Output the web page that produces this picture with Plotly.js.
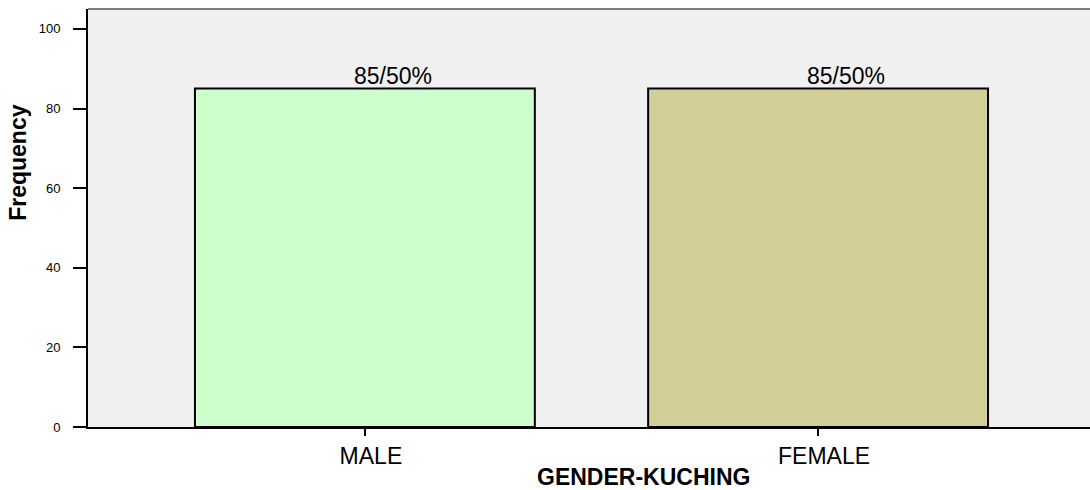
<!DOCTYPE html>
<html>
<head>
<meta charset="utf-8">
<script src="https://cdn.plot.ly/plotly-3.0.1.min.js"></script>
<style>
  html, body { margin: 0; padding: 0; background: #fff; overflow: hidden; }
</style>
</head>
<body>
<div id="gender_chart"></div>
<script>
// GENDER-KUCHING frequencies
var genders = ["MALE", "FEMALE"];
var counts = [85, 85];
var percents = ["50%", "50%"];
var barColors = ["#CCFFCC", "#D3CE97"];
var yTicks = [0, 20, 40, 60, 80, 100];

var labelFont = {family: "Liberation Sans, Arial", size: 23, color: "#000"};

var data = [{
  type: "bar",
  x: genders,
  y: counts,
  width: 0.75,
  marker: {color: barColors, line: {color: "#000", width: 2}},
  hoverinfo: "x+y"
}];

// count/percent labels sit just above each bar, a bit right of centre
var barLabels = genders.map(function (g, i) {
  return {
    text: counts[i] + "/" + percents[i],
    xref: "x", yref: "y",
    x: g, y: counts[i],
    xanchor: "center", yanchor: "bottom",
    xshift: 28, yshift: -2,
    showarrow: false,
    font: labelFont
  };
});

var layout = {
  width: 1090,
  height: 490,
  margin: {l: 88, r: 0, t: 9, b: 63},
  paper_bgcolor: "#ffffff",
  plot_bgcolor: "#F0F0F0",
  showlegend: false,
  font: {family: "Liberation Sans, Arial", color: "#000"},
  xaxis: {
    type: "category",
    range: [-0.611, 1.6],
    showline: true, linecolor: "#000", linewidth: 2,
    ticks: "outside", ticklen: 7, tickwidth: 1.5, tickcolor: "#000",
    tickfont: {size: 23},
    ticklabelshift: 6,
    showgrid: false, zeroline: false
  },
  yaxis: {
    range: [0, 105],
    tickvals: yTicks,
    showline: true, linecolor: "#000", linewidth: 2,
    ticks: "outside", ticklen: 13, tickwidth: 2, tickcolor: "#000",
    ticklabelstandoff: 10,
    tickfont: {size: 13},
    showgrid: false, zeroline: false
  },
  annotations: barLabels.concat([{
    text: "<b>GENDER-KUCHING</b>",
    xref: "x", yref: "paper",
    x: 0.615, y: 0, yanchor: "middle", yshift: -50,
    showarrow: false,
    font: {size: 23}
  }, {
    text: "<b>Frequency</b>",
    xref: "paper", yref: "paper",
    x: 0, y: 0.632, xanchor: "center", yanchor: "middle", xshift: -70,
    textangle: -90,
    showarrow: false,
    font: {size: 23}
  }]),
  shapes: [{
    type: "line", xref: "paper", yref: "paper",
    x0: 0, x1: 1, y0: 1, y1: 1,
    line: {color: "#555", width: 1.5}
  }]
};

Plotly.newPlot("gender_chart", data, layout, {displayModeBar: false, staticPlot: true});
</script>
</body>
</html>
